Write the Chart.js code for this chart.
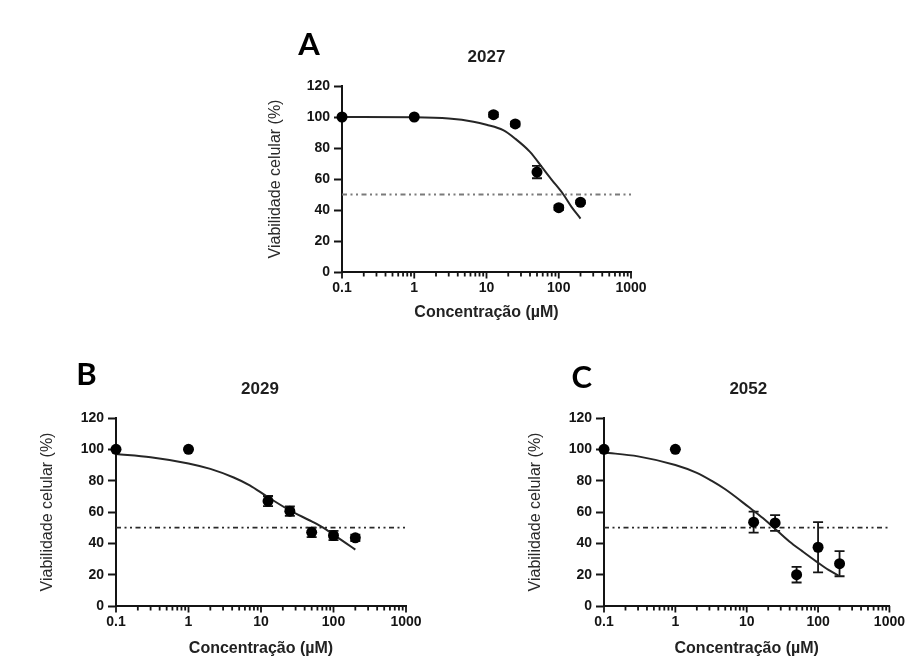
<!DOCTYPE html>
<html>
<head>
<meta charset="utf-8">
<script src="https://cdn.jsdelivr.net/npm/chart.js@4.4.1/dist/chart.umd.min.js"></script>
<style>
html,body{margin:0;padding:0;background:#fff;overflow:hidden;width:907px;height:657px;position:relative}
canvas{position:absolute;left:0;top:0;pointer-events:none}
</style>
</head>
<body>
<canvas id="cA" width="907" height="700"></canvas>
<canvas id="cB" width="907" height="700"></canvas>
<canvas id="cC" width="907" height="700"></canvas>
<script>
// ---------- DATA ----------
const concentrations = [0.1, 1, 12.5, 25, 50, 100, 200];

const viabilityA = [100, 100, 101.5, 95.5, 64.5, 41.5, 45];
const errorA     = [0.5, 0.5, 1.5, 1.5, 4, 1.5, 1];
const viabilityB = [100, 100, 67, 60.5, 47, 45, 43.5];
const errorB     = [0.5, 0.5, 3.2, 3, 3, 3, 2];
const viabilityC = [100, 100, 53.5, 53, 20, 37.5, 27];
const errorC     = [0.5, 0.5, 6.7, 5, 5, 16, 8];

// fitted curves
const fitXA = [0.1, 1, 3, 6.6, 10, 17, 25, 40, 60, 80, 116, 150, 200];
const fitYA = [100, 99.8, 99, 97, 95, 91.5, 86, 77.5, 67, 59.5, 50, 42, 34.5];
const fitXB = [0.1, 0.3, 1, 2, 4.2, 7, 12, 25, 50, 72, 100, 150, 200];
const fitYB = [97, 95, 91, 87.5, 82, 77, 70, 61, 54, 50, 45.5, 40, 36];
const fitXC = [0.1, 0.3, 1, 2, 3.2, 5, 10.8, 17, 24, 40, 60, 94, 140, 200];
const fitYC = [98, 95.5, 90, 85, 80, 74.5, 63, 56, 50, 41, 35, 28.5, 23, 19];

const refLineX = [0.1, 1000];
const ic50Level = 50;

const xMajorTicks = [0.1, 1, 10, 100, 1000];
const xTickValues = [0.1,0.2,0.3,0.4,0.5,0.6,0.7,0.8,0.9,
                     1,2,3,4,5,6,7,8,9,
                     10,20,30,40,50,60,70,80,90,
                     100,200,300,400,500,600,700,800,900,1000];
const yTickValues = [0, 20, 40, 60, 80, 100, 120];

const panelLetters = ['A', 'B', 'C'];
const panelTitles = ['2027', '2029', '2052'];
const xAxisTitle = 'Concentração (µM)';
const yAxisTitle = 'Viabilidade celular (%)';

// ---------- LAYOUT ----------
const CW = 907, CH = 700, Y_W = 80, X_H = 60;
const panels = [
  {canvas:'cA', idx:0, values:viabilityA, errors:errorA, fitX:fitXA, fitY:fitYA, refColor:'#7a7a7a',
   area:{left:342,right:631,top:86,bottom:272}, letterX:309, letterY:55, titleX:486.5, titleY:61.5,
   yTitleX:276, xTitleY:313},
  {canvas:'cB', idx:1, values:viabilityB, errors:errorB, fitX:fitXB, fitY:fitYB, refColor:'#2a2a2a',
   area:{left:116,right:406,top:418,bottom:606}, letterX:86.5, letterY:385, titleX:260, titleY:393.5,
   yTitleX:47.5, xTitleY:648.7},
  {canvas:'cC', idx:2, values:viabilityC, errors:errorC, fitX:fitXC, fitY:fitYC, refColor:'#2a2a2a',
   area:{left:604,right:894,top:418,bottom:606}, letterX:581.7, letterY:388, titleX:748.3, titleY:394,
   yTitleX:535.8, xTitleY:649}
];

const INK = '#141414';
const tickFont = {family:'"Liberation Sans", Arial, sans-serif', size:14, weight:'bold'};

function makeChart(p) {
  const a = p.area;
  const decor = {
    id: 'decor' + p.idx,
    beforeDatasetsDraw(chart) {
      const ctx = chart.ctx, xs = chart.scales.x, ys = chart.scales.y;
      ctx.save();
      ctx.strokeStyle = INK;
      ctx.lineWidth = 1.8;
      concentrations.forEach((c, i) => {
        const e = p.errors[i];
        if (e < 1) return;
        const px = xs.getPixelForValue(c);
        const y1 = ys.getPixelForValue(p.values[i] + e);
        const y2 = ys.getPixelForValue(p.values[i] - e);
        ctx.beginPath();
        ctx.moveTo(px, y1); ctx.lineTo(px, y2);
        ctx.moveTo(px - 5, y1); ctx.lineTo(px + 5, y1);
        ctx.moveTo(px - 5, y2); ctx.lineTo(px + 5, y2);
        ctx.stroke();
      });
      ctx.restore();
    },
    afterDraw(chart) {
      const ctx = chart.ctx, xs = chart.scales.x;
      const yb = chart.chartArea.bottom;
      ctx.save();
      ctx.strokeStyle = INK;
      ctx.lineWidth = 1.8;
      xTickValues.forEach(v => {
        const px = xs.getPixelForValue(v);
        const len = xMajorTicks.includes(v) ? 6.5 : 4.5;
        ctx.beginPath();
        ctx.moveTo(px, yb);
        ctx.lineTo(px, yb + len);
        ctx.stroke();
      });
      // panel letter
      ctx.fillStyle = '#000';
      ctx.textAlign = 'center';
      ctx.textBaseline = 'alphabetic';
      ctx.font = 'bold 31px Lato, "Open Sans", sans-serif';
      ctx.fillText(panelLetters[p.idx], p.letterX, p.letterY);
      // panel title
      ctx.fillStyle = '#1e1e1e';
      ctx.font = 'bold 17px "Liberation Sans", Arial, sans-serif';
      ctx.fillText(panelTitles[p.idx], p.titleX, p.titleY);
      ctx.restore();
    }
  };

  const yTitlePad = p.yTitleX - (a.left - Y_W) - 16 * 1.2 / 2;
  const xTitlePad = a.bottom + X_H - 16 * 1.2 / 2 - p.xTitleY;

  return new Chart(document.getElementById(p.canvas), {
    type: 'scatter',
    data: {
      datasets: [
        {
          label: 'dados',
          data: concentrations.map((x, i) => ({x, y: p.values[i]})),
          pointRadius: 5.5, pointHoverRadius: 5.5,
          pointBackgroundColor: '#000', pointBorderColor: '#000', pointBorderWidth: 0,
          showLine: false, clip: false, order: 1
        },
        {
          label: 'ajuste',
          data: p.fitX.map((x, i) => ({x, y: p.fitY[i]})),
          showLine: true, borderColor: '#262626', borderWidth: 2,
          pointRadius: 0, cubicInterpolationMode: 'monotone', clip: false, order: 2
        },
        {
          label: 'IC50',
          data: refLineX.map(x => ({x, y: ic50Level})),
          showLine: true, borderColor: p.refColor, borderWidth: 1.8,
          borderDash: [5, 3.5, 2, 3.5, 2, 3.5], pointRadius: 0, clip: false, order: 3
        }
      ]
    },
    options: {
      responsive: false, animation: false, devicePixelRatio: 1, events: [],
      layout: {padding: {left: a.left - Y_W, right: CW - a.right, top: a.top, bottom: CH - a.bottom - X_H}},
      plugins: {legend: {display: false}, tooltip: {enabled: false}, title: {display: false}},
      scales: {
        x: {
          type: 'logarithmic', min: 0.1, max: 1000,
          afterBuildTicks: s => { s.ticks = xTickValues.map(v => ({value: v})); },
          afterFit: s => { s.height = X_H; },
          ticks: {autoSkip: false, maxRotation: 0, minRotation: 0, padding: 2, font: tickFont, color: INK,
                  callback: v => xMajorTicks.includes(v) ? String(v) : ''},
          grid: {display: true, drawOnChartArea: false, drawTicks: true, tickLength: 6,
                 tickColor: 'rgba(0,0,0,0)', color: 'rgba(0,0,0,0)'},
          border: {display: true, color: INK, width: 2},
          title: {display: true, text: xAxisTitle, color: '#222',
                  font: {family: '"Liberation Sans", Arial, sans-serif', size: 16, weight: 'bold'},
                  padding: {top: 0, bottom: xTitlePad}}
        },
        y: {
          type: 'linear', min: 0, max: 120,
          afterBuildTicks: s => { s.ticks = yTickValues.map(v => ({value: v})); },
          afterFit: s => { s.width = Y_W; },
          ticks: {autoSkip: false, padding: 4, font: tickFont, color: INK, callback: v => String(v)},
          grid: {display: true, drawOnChartArea: false, drawTicks: true, tickLength: 8,
                 tickColor: INK, tickWidth: 2, color: 'rgba(0,0,0,0)'},
          border: {display: true, color: INK, width: 2},
          title: {display: true, text: yAxisTitle, color: '#2a2a2a',
                  font: {family: '"Liberation Sans", Arial, sans-serif', size: 16, weight: 'normal'},
                  padding: {top: yTitlePad, bottom: 0}}
        }
      }
    },
    plugins: [decor]
  });
}

panels.forEach(makeChart);
</script>
</body>
</html>
